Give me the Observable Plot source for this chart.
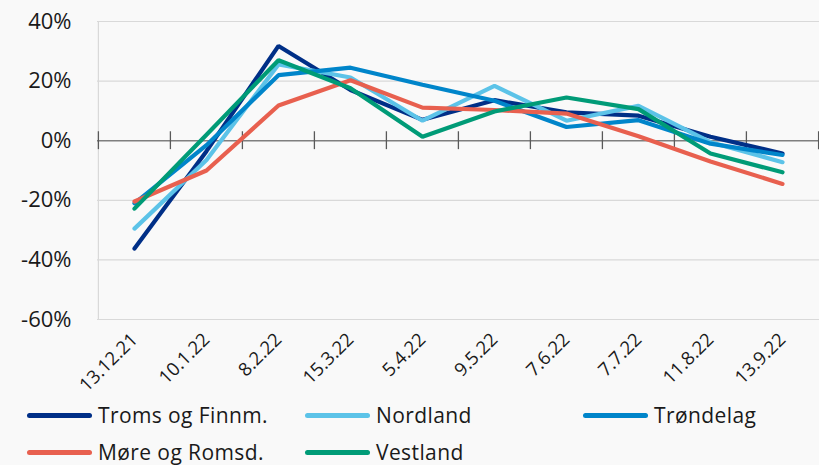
<!DOCTYPE html>
<html>
<head>
<meta charset="utf-8">
<script src="https://cdn.jsdelivr.net/npm/d3@7"></script>
<script src="https://cdn.jsdelivr.net/npm/@observablehq/plot@0.6"></script>
<style>
  html, body { margin: 0; padding: 0; background: #f9f9f9; }
  body { width: 819px; height: 465px; overflow: hidden; font-family: "Open Sans", sans-serif; }
  #chart svg { display: block; background: #f9f9f9; }
  #legend { position: relative; height: 70px; }
  .item { position: absolute; display: flex; align-items: center; font-size: 21px; line-height: 21px; height: 21px; letter-spacing: 0.4px; color: #1a1a1a; white-space: nowrap; }
  .sw { width: 65px; height: 5px; border-radius: 3px; margin-right: 6px; }
</style>
</head>
<body>
<div id="chart"></div>
<div id="legend"></div>
<script>
const dates = ["13.12.21","10.1.22","8.2.22","15.3.22","5.4.22","9.5.22","7.6.22","7.7.22","11.8.22","13.9.22"];
const seriesNames = ["Troms og Finnm.","Nordland","Trøndelag","Møre og Romsd.","Vestland"];
const seriesColors = ["#002f87","#5cc3e8","#0085ca","#e8604f","#009b77"];
const tromsFinnm = [-36.2,-3.5,31.8,17.0,7.0,13.6,9.5,8.4,1.3,-4.3];
const nordland   = [-29.5,-6.5,25.6,21.2,6.7,18.4,6.7,11.7,-0.5,-7.2];
const trondelag  = [-21.0,-1.5,22.0,24.5,18.8,13.4,4.6,6.9,-1.0,-4.8];
const moreRomsd  = [-20.4,-10.0,11.8,20.3,11.1,10.3,9.1,1.5,-7.0,-14.5];
const vestland   = [-22.8,2.0,27.0,17.6,1.3,9.8,14.5,10.6,-4.3,-10.6];
const yTicks = [-60,-40,-20,0,20,40];

const allSeries = [tromsFinnm, nordland, trondelag, moreRomsd, vestland];
const rows = [];
allSeries.forEach((vals, si) => vals.forEach((v, i) => rows.push({series: seriesNames[si], date: dates[i], value: v})));

const W = 819, mL = 97, mR = 0;
const step = (W - mL - mR) / dates.length;

const chart = Plot.plot({
  width: W,
  height: 395,
  marginLeft: mL,
  marginRight: mR,
  marginTop: 21,
  marginBottom: 76,
  style: {fontFamily: "Open Sans, sans-serif", background: "#f9f9f9", overflow: "visible"},
  x: {type: "point", domain: dates, padding: 0.5},
  y: {domain: [-60, 40]},
  color: {domain: seriesNames, range: seriesColors},
  marks: [
    Plot.ruleY(yTicks.filter(d => d !== 0), {stroke: "#d9d9d9", strokeWidth: 1.2}),
    Plot.ruleX([dates[0]], {y1: -60, y2: 40, dx: -step/2, stroke: "#d9d9d9", strokeWidth: 1.2}),
    Plot.ruleY([0], {stroke: "#7f7f7f", strokeWidth: 1.5}),
    Plot.ruleX(dates, {y1: -3, y2: 3, dx: -step/2, stroke: "#595959", strokeWidth: 1.3}),
    Plot.ruleX([dates[dates.length-1]], {y1: -3, y2: 3, dx: step/2, stroke: "#595959", strokeWidth: 1.3}),
    Plot.axisY({ticks: yTicks, tickSize: 0, tickPadding: 26, tickFormat: d => d + "%", fontSize: 22, color: "#1a1a1a", label: null}),
    Plot.axisX({tickSize: 0, tickRotate: -45, tickPadding: 17, fontSize: 18.5, color: "#1a1a1a", label: null}),
    Plot.line(rows, {x: "date", y: "value", z: "series", stroke: "series", strokeWidth: 4.2, strokeLinecap: "round", strokeLinejoin: "miter"})
  ]
});
document.getElementById("chart").appendChild(chart);

const legend = document.getElementById("legend");
const pos = [[27,0],[305,0],[583,0],[27,37],[305,37]];
seriesNames.forEach((n, i) => {
  const it = document.createElement("div");
  it.className = "item";
  it.style.left = pos[i][0] + "px";
  it.style.top = (pos[i][1] + 10) + "px";
  it.innerHTML = `<span class="sw" style="background:${seriesColors[i]}"></span><span>${n}</span>`;
  legend.appendChild(it);
});
</script>
</body>
</html>
